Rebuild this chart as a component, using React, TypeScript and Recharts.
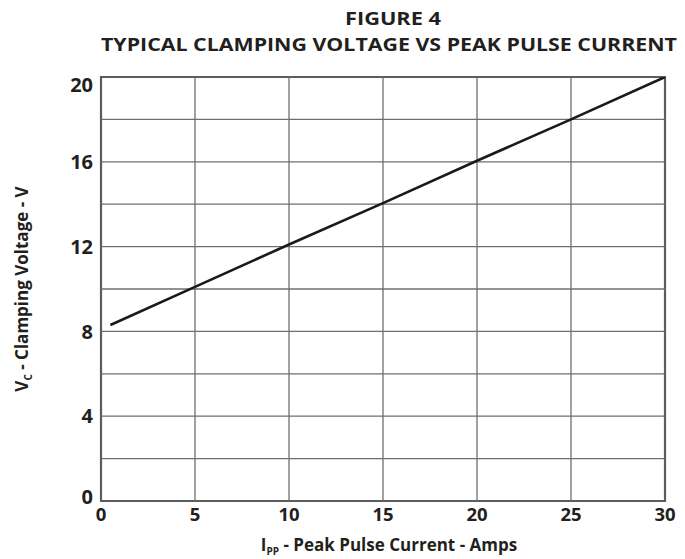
import React from "react";
import { LineChart, Line, XAxis, YAxis, ReferenceLine, ReferenceArea, Label } from "recharts";

const currents = [0.5, 5, 10, 15, 20, 25, 30];
const voltages = [8.3, 10.1, 12.1, 14.05, 16.05, 18.0, 20.0];
const xTicks = [0, 5, 10, 15, 20, 25, 30];
const yTicks = [0, 4, 8, 12, 16, 20];
const gridX = [5, 10, 15, 20, 25];
const gridY = [2, 4, 6, 8, 10, 12, 14, 16, 18];

const data = currents.map((c, i) => ({ ipp: c, vc: voltages[i] }));

const FONT = "'Open Sans', 'DejaVu Sans', sans-serif";
const TEXT = "#231f20";

const YTick = (props: any) => {
  const { x, y, payload } = props;
  const v = payload.value;
  const shift = v === 20 ? 8 : v === 0 ? -4 : 0;
  return (
    <text x={x} y={y + shift} dy="0.36em" textAnchor="end" fontFamily={FONT} fontWeight={700} fontSize={20} fill={TEXT}>
      {v}
    </text>
  );
};

const XTick = (props: any) => {
  const { x, y, payload } = props;
  return (
    <text x={x} y={y - 1} dy="0.71em" textAnchor="middle" fontFamily={FONT} fontWeight={700} fontSize={18.5} fill={TEXT}>
      {payload.value}
    </text>
  );
};

const XTitle = (props: any) => {
  const vb = props.viewBox || {};
  const cx = vb.x + vb.width / 2 + 6;
  return (
    <text x={cx} y={vb.y + 50} textAnchor="middle" fontFamily={FONT} fontWeight={700} fontSize={17} fill={TEXT}>
      <tspan>I</tspan>
      <tspan fontSize={10} dy={4}>PP</tspan>
      <tspan dy={-4}> - Peak Pulse Current - Amps</tspan>
    </text>
  );
};

const YTitle = (props: any) => {
  const vb = props.viewBox || {};
  const x = 22;
  const y = vb.y + vb.height / 2;
  return (
    <text x={x} y={y} transform={`rotate(-90 ${x} ${y})`} dy="0.36em" textAnchor="middle" fontFamily={FONT} fontWeight={700} fontSize={17} fill={TEXT}>
      <tspan>V</tspan>
      <tspan fontSize={10} dy={4}>C</tspan>
      <tspan dy={-4}> - Clamping Voltage - V</tspan>
    </text>
  );
};

export default function App() {
  return (
    <div style={{ position: "absolute", left: 0, top: 0, width: 685, height: 559, background: "#fff" }}>
      <LineChart
        width={685}
        height={559}
        data={data}
        margin={{ top: 77, right: 20, bottom: 28, left: 61 }}
      >
        <XAxis
          dataKey="ipp"
          type="number"
          domain={[0, 30]}
          ticks={xTicks}
          allowDataOverflow
          axisLine={false}
          tickLine={false}
          height={30}
          tick={<XTick />}
          interval={0}
        >
          <Label content={<XTitle />} />
        </XAxis>
        <YAxis
          type="number"
          domain={[0, 20]}
          ticks={yTicks}
          allowDataOverflow
          axisLine={false}
          tickLine={false}
          width={40}
          tick={<YTick />}
          interval={0}
        >
          <Label content={<YTitle />} />
        </YAxis>
        {gridX.map((v) => (
          <ReferenceLine key={"gx" + v} x={v} stroke="#6f6f6f" strokeWidth={1.3} />
        ))}
        {gridY.map((v) => (
          <ReferenceLine key={"gy" + v} y={v} stroke="#6f6f6f" strokeWidth={1.3} />
        ))}
        <ReferenceArea x1={0} x2={30} y1={0} y2={20} fill="none" stroke="#5c5c5c" strokeWidth={2.2} fillOpacity={0} />
        <Line
          type="linear"
          dataKey="vc"
          stroke="#1a1a1a"
          strokeWidth={2.6}
          dot={false}
          isAnimationActive={false}
        />
      </LineChart>
      <svg width={685} height={77} style={{ position: "absolute", left: 0, top: 0, pointerEvents: "none" }}>
        <text x={393} y={19} dy="0.36em" textAnchor="middle" fontFamily={FONT} fontWeight={700} fontSize={17} fill={TEXT} textLength={96} lengthAdjust="spacingAndGlyphs">
          FIGURE 4
        </text>
        <text x={389} y={45} dy="0.36em" textAnchor="middle" fontFamily={FONT} fontWeight={700} fontSize={17} fill={TEXT} textLength={576} lengthAdjust="spacingAndGlyphs">
          TYPICAL CLAMPING VOLTAGE VS PEAK PULSE CURRENT
        </text>
      </svg>
    </div>
  );
}
